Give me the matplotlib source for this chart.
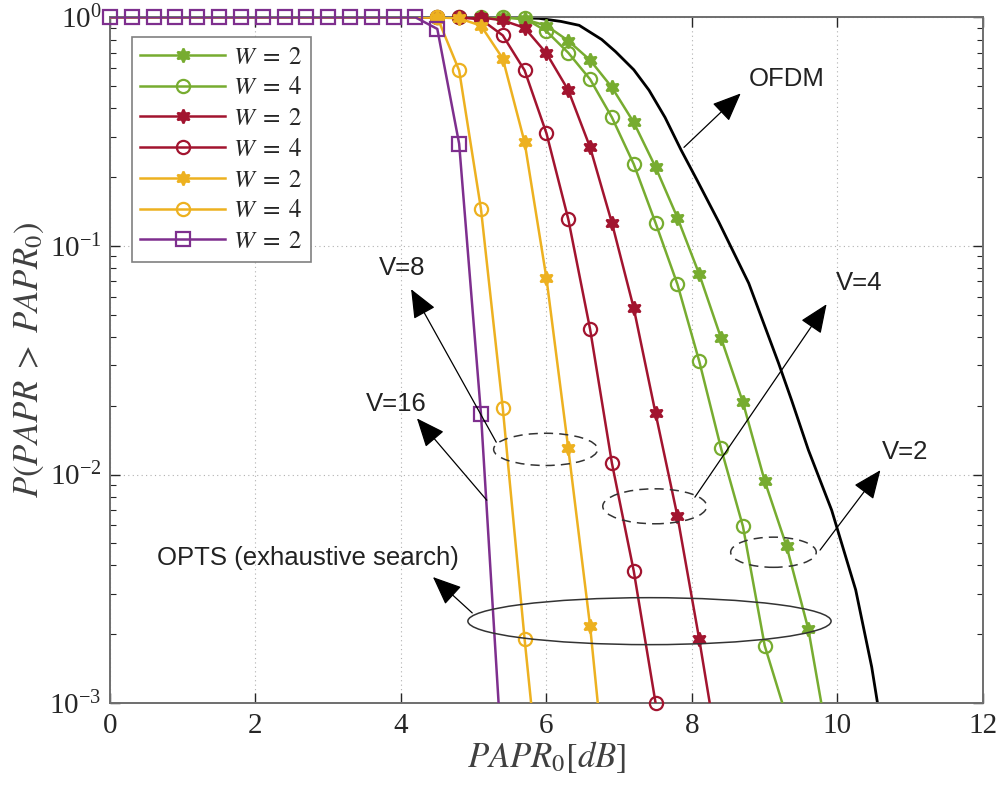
import numpy as np
import matplotlib
matplotlib.use("Agg")
import matplotlib.pyplot as plt
from matplotlib.patches import Ellipse
from matplotlib.lines import Line2D

plt.rcParams['font.family'] = ['Liberation Serif', 'DejaVu Serif']
plt.rcParams['mathtext.fontset'] = 'stix'

# PAPR0 grid (dB) at which the curves were sampled / marked
papr0 = [0.0, 0.3, 0.6, 0.9, 1.2, 1.5, 1.8, 2.1, 2.4, 2.7, 3.0, 3.3,
         3.6, 3.9, 4.2, 4.5, 4.8, 5.1, 5.4, 5.7, 6.0, 6.3, 6.6, 6.9,
         7.2, 7.5, 7.8, 8.1, 8.4, 8.7, 9.0, 9.3, 9.6, 9.9]

# V=2 (green)
v2_w2 = [1.0, 1.0, 1.0, 1.0, 1.0, 1.0, 1.0, 1.0, 1.0, 1.0, 1.0, 1.0,
         1.0, 1.0, 1.0, 1.0, 1.0, 1.0, 1.0, 0.98, 0.92, 0.79, 0.65, 0.494,
         0.347, 0.221, 0.133, 0.0752, 0.0395, 0.0207, 0.00936, 0.00486, 0.0021, 0.0006]
v2_w4 = [1.0, 1.0, 1.0, 1.0, 1.0, 1.0, 1.0, 1.0, 1.0, 1.0, 1.0, 1.0,
         1.0, 1.0, 1.0, 1.0, 1.0, 1.0, 1.0, 0.99, 0.87, 0.70, 0.536, 0.365,
         0.228, 0.126, 0.068, 0.0313, 0.0130, 0.00594, 0.00178, 0.00087]
# V=4 (red)
v4_w2 = [1.0, 1.0, 1.0, 1.0, 1.0, 1.0, 1.0, 1.0, 1.0, 1.0, 1.0, 1.0,
         1.0, 1.0, 1.0, 1.0, 1.0, 1.0, 0.97, 0.90, 0.696, 0.48, 0.27, 0.126,
         0.0534, 0.0185, 0.00658, 0.0019, 0.0005]
v4_w4 = [1.0, 1.0, 1.0, 1.0, 1.0, 1.0, 1.0, 1.0, 1.0, 1.0, 1.0, 1.0,
         1.0, 1.0, 1.0, 1.0, 1.0, 0.98, 0.834, 0.586, 0.311, 0.131, 0.0432, 0.0112,
         0.00378, 0.001]
# V=8 (yellow)
v8_w2 = [1.0, 1.0, 1.0, 1.0, 1.0, 1.0, 1.0, 1.0, 1.0, 1.0, 1.0, 1.0,
         1.0, 1.0, 1.0, 1.0, 0.99, 0.92, 0.66, 0.284, 0.0722, 0.0130, 0.00217, 0.00024]
v8_w4 = [1.0, 1.0, 1.0, 1.0, 1.0, 1.0, 1.0, 1.0, 1.0, 1.0, 1.0, 1.0,
         1.0, 1.0, 1.0, 1.0, 0.586, 0.145, 0.0195, 0.0019, 0.00022]
# V=16 (purple)
v16_w2 = [1.0, 1.0, 1.0, 1.0, 1.0, 1.0, 1.0, 1.0, 1.0, 1.0, 1.0, 1.0,
          1.0, 1.0, 1.0, 0.89, 0.28, 0.0184, 0.0005]

# OFDM reference curve
ofdm_x = [0.0, 5.5, 5.9, 6.2, 6.45, 6.76, 6.95, 7.2, 7.41, 7.63, 7.85, 8.07, 8.37, 8.78,
          9.19, 9.37, 9.60, 9.92, 10.25, 10.47, 10.55]
ofdm_y = [1.0, 1.0, 0.99, 0.96, 0.923, 0.80, 0.708, 0.59, 0.480, 0.365, 0.263, 0.194,
          0.127, 0.0687, 0.0307, 0.0211, 0.0128, 0.00698, 0.00313, 0.00144, 0.0010]

green = '#77AC30'
red = '#A2142F'
yellow = '#EDB120'
purple = '#7E2F8E'
hexagram = (6, 1, 0)
ymin = 1e-3

fig = plt.figure(figsize=(9.99, 7.9), dpi=100)
ax = fig.add_axes([0.110, 0.110, 0.874, 0.868])

ax.plot(ofdm_x, ofdm_y, color='black', lw=2.0, zorder=2)

series = [
    (v2_w2, green, hexagram, r'$W\;=\;2$'),
    (v2_w4, green, 'o', r'$W\;=\;4$'),
    (v4_w2, red, hexagram, r'$W\;=\;2$'),
    (v4_w4, red, 'o', r'$W\;=\;4$'),
    (v8_w2, yellow, hexagram, r'$W\;=\;2$'),
    (v8_w4, yellow, 'o', r'$W\;=\;4$'),
    (v16_w2, purple, 's', r'$W\;=\;2$'),
]
# where the V=16 squares sit on the 10^0 line they hide the other markers
top_squares = len([v for v in v16_w2 if v >= 1.0])
handles = []
for vals, col, mk, lab in series:
    xs = papr0[:len(vals)]
    filled = mk == hexagram
    style = dict(marker=mk, markersize=10 if filled else 9.5,
                 markerfacecolor=col if filled else 'none',
                 markeredgecolor=col, markeredgewidth=1.6)
    # line clipped to the axes, markers drawn unclipped where inside the range
    ax.plot(xs, vals, color=col, lw=1.8, zorder=3)
    first = 0 if mk == 's' else top_squares
    shown = [i for i, v in enumerate(vals) if v >= ymin * 0.999 and i >= first]
    ax.plot(xs, vals, ls='none', markevery=shown, clip_on=False, zorder=3, **style)
    handles.append(Line2D([], [], color=col, lw=1.8, label=lab, **style))

ax.set_yscale('log')
ax.set_xlim(0, 12)
ax.set_ylim(ymin, 1)
ax.set_xticks([0, 2, 4, 6, 8, 10, 12])
ax.grid(True, which='major', linestyle=(0, (1, 3)), color='#b0b0b0', lw=0.8)
ax.tick_params(which='both', direction='in', top=True, right=True,
               labelsize=21, colors='#262626')
ax.tick_params(which='major', length=7, width=1.0)
ax.tick_params(axis='y', which='major', pad=6)
ax.tick_params(axis='x', which='major', pad=7)
ax.tick_params(which='minor', length=4, width=0.8)
ax.tick_params(axis='x', which='minor', bottom=False, top=False)
for sp in ax.spines.values():
    sp.set_color('#6e6e6e')
    sp.set_linewidth(1.4)

ax.set_xlabel(r'$PAPR_0[dB]$', fontsize=25, color='#404040', labelpad=0)
ax.set_ylabel(r'$P(PAPR\;>\;PAPR_0)$', fontsize=25, color='#404040', labelpad=2)

leg = ax.legend(handles=handles, loc='upper left', bbox_to_anchor=(0.025, 0.971),
                borderaxespad=0, fontsize=18, handlelength=3.4, labelspacing=0.33,
                fancybox=False, framealpha=1, edgecolor='#808080',
                borderpad=0.35, handletextpad=0.3)
leg.get_frame().set_linewidth(1.2)
for t in leg.get_texts():
    t.set_color('#262626')

# annotations
sans = ['Liberation Sans', 'DejaVu Sans']
arrow = dict(arrowstyle='-|>,head_length=0.9,head_width=0.38', color='black',
             lw=0.9, mutation_scale=20, shrinkA=0, shrinkB=0)
notes = [
    ('OFDM', (9.30, 0.535), (8.67, 0.465), (7.89, 0.270)),
    ('V=4', (10.30, 0.0687), (9.85, 0.0556), (8.04, 0.00796)),
    ('V=2', (10.93, 0.01253), (10.59, 0.01045), (9.76, 0.00467)),
    ('V=8', (4.02, 0.0798), (4.14, 0.0647), (5.31, 0.01385)),
    ('V=16', (3.94, 0.0203), (4.22, 0.0176), (5.18, 0.00772)),
    ('OPTS (exhaustive search)', (2.72, 0.00431), (4.44, 0.00356), (4.98, 0.00248)),
]
for txt, tpos, head, tail in notes:
    ax.text(tpos[0], tpos[1], txt, family=sans, fontsize=18.5, color='#222222',
            ha='center', va='center')
    ax.annotate('', xy=head, xytext=tail, arrowprops=arrow)

# grouping ellipses (axes fraction)
for cx, cy, w, h, ls in [(0.499, 0.370, 0.119, 0.047, (0, (6, 4))),
                         (0.624, 0.287, 0.119, 0.051, (0, (6, 4))),
                         (0.760, 0.220, 0.098, 0.044, (0, (6, 4))),
                         (0.618, 0.1195, 0.416, 0.0685, '-')]:
    ax.add_patch(Ellipse((cx, cy), w, h, transform=ax.transAxes, fill=False,
                         edgecolor='#333333', lw=1.1, linestyle=ls, zorder=4))

fig.savefig('out.png', dpi=100)
